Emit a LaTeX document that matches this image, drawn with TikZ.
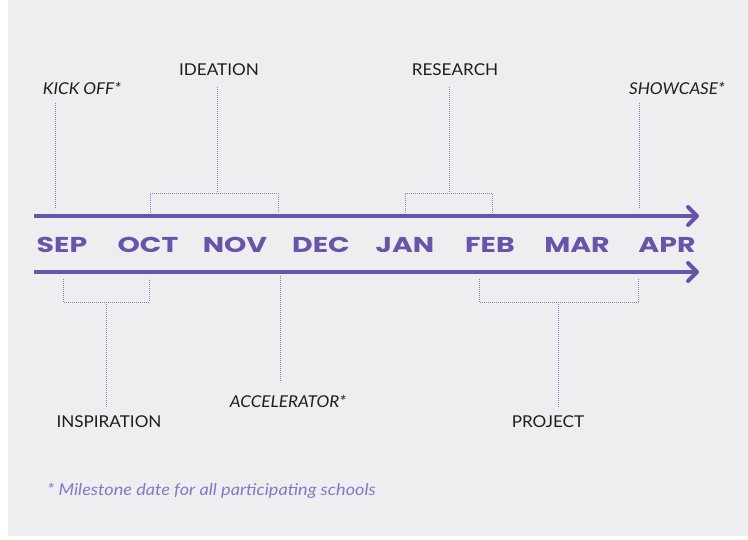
\documentclass[tikz,border=0pt]{standalone}
\usepackage{fontspec}
\setmainfont{Lato}
\newfontfamily\monthfont[FakeStretch=1.32]{Poppins}
\newfontfamily\lblfont[FakeStretch=1.05]{Lato}
\newfontfamily\notefont[FakeStretch=1.11]{Lato}
\usetikzlibrary{arrows.meta}
\definecolor{tlpurple}{RGB}{104,84,168}
\definecolor{tldot}{RGB}{140,128,200}
\definecolor{tlnote}{RGB}{135,120,195}
\definecolor{tltext}{RGB}{30,30,30}
\definecolor{tlbg}{RGB}{238,237,240}
\tikzset{
  month/.style={font=\monthfont\bfseries\fontsize{21.5}{23}\selectfont, text=tlpurple, inner sep=0pt, anchor=center},
  lbl/.style={font=\lblfont\fontsize{16.3}{18}\selectfont, text=tltext, inner sep=0pt},
  ilbl/.style={lbl, font=\lblfont\fontsize{16.3}{18}\selectfont\itshape},
  timeline/.style={draw=tlpurple, line width=4pt, -{Straight Barb[length=9pt,width=18pt,round]}},
  dotline/.style={draw=tldot, line width=0.9pt, dash pattern=on 0.9pt off 1.1pt},
}
\begin{document}
\begin{tikzpicture}[x=1pt,y=-1pt]
\useasboundingbox (0,0) rectangle (748,539);
\fill[white] (0,0) rectangle (748,539);
\fill[tlbg] (8,0) rectangle (748,536);

% timelines
\coordinate (topS) at (34,216);
\coordinate (topE) at (699,216);
\coordinate (botS) at (34,272);
\coordinate (botE) at (699,272);
\draw[timeline] (topS) -- (topE);
\draw[timeline] (botS) -- (botE);

% months
\node[month] (sep) at (62,245) {SEP};
\node[month] (oct) at (148,245) {OCT};
\node[month] (nov) at (235,245) {NOV};
\node[month] (dec) at (321,245) {DEC};
\node[month] (jan) at (405,245) {JAN};
\node[month] (feb) at (490,245) {FEB};
\node[month] (mar) at (577,245) {MAR};
\node[month] (apr) at (667,245) {APR};

% top labels
\node[ilbl] (kick) at (82,88) {KICK OFF*};
\node[lbl] (idea) at (219,70) {IDEATION};
\node[lbl] (res) at (455,70) {RESEARCH};
\node[ilbl] (show) at (677,88) {SHOWCASE*};

% bottom labels
\node[lbl] (insp) at (109,422) {INSPIRATION};
\node[ilbl] (acc) at (288,401) {ACCELERATOR*};
\node[lbl] (proj) at (548,422) {PROJECT};

\node[font=\notefont\fontsize{16.3}{18}\selectfont\itshape, text=tlnote, anchor=west, inner sep=0pt] (note) at (47,491) {* Milestone date for all participating schools};

% kick off
\coordinate (kickT) at (55,103);
\coordinate (kickB) at (55,209);
\draw[dotline] (kickT) -- (kickB);
% showcase
\coordinate (showT) at (639,103);
\coordinate (showB) at (639,209);
\draw[dotline] (showT) -- (showB);
% ideation
\coordinate (ideaT) at (217,87);
\coordinate (ideaJ) at (217,193);
\coordinate (ideaL) at (150,213);
\coordinate (ideaR) at (278,213);
\draw[dotline] (ideaT) -- (ideaJ);
\draw[dotline] (ideaL) -- (ideaL|-ideaJ) -- (ideaR|-ideaJ) -- (ideaR);
% research
\coordinate (resT) at (449,87);
\coordinate (resJ) at (449,193);
\coordinate (resL) at (405,213);
\coordinate (resR) at (492,213);
\draw[dotline] (resT) -- (resJ);
\draw[dotline] (resL) -- (resL|-resJ) -- (resR|-resJ) -- (resR);
% inspiration
\coordinate (inspT) at (106,407);
\coordinate (inspJ) at (106,302);
\coordinate (inspL) at (63,279);
\coordinate (inspR) at (149,279);
\draw[dotline] (inspT) -- (inspJ);
\draw[dotline] (inspL) -- (inspL|-inspJ) -- (inspR|-inspJ) -- (inspR);
% accelerator
\coordinate (accT) at (280,276);
\coordinate (accB) at (280,382);
\draw[dotline] (accT) -- (accB);
% project
\coordinate (projT) at (558,407);
\coordinate (projJ) at (558,302);
\coordinate (projL) at (479,279);
\coordinate (projR) at (638,279);
\draw[dotline] (projT) -- (projJ);
\draw[dotline] (projL) -- (projL|-projJ) -- (projR|-projJ) -- (projR);
\end{tikzpicture}
\end{document}
